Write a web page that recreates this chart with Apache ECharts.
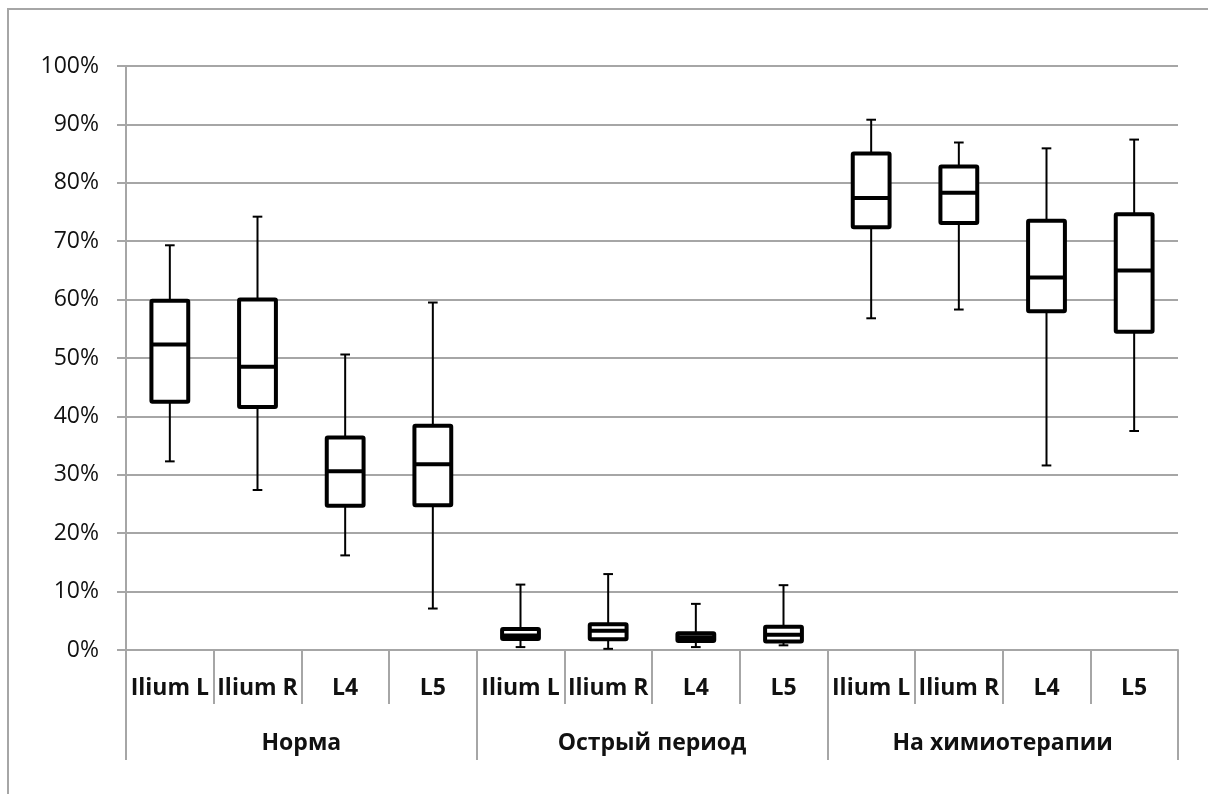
<!DOCTYPE html>
<html>
<head>
<meta charset="utf-8">
<script src="https://cdn.jsdelivr.net/npm/echarts@6/dist/echarts.min.js"></script>
<style>
  html, body { margin: 0; padding: 0; background: #fff; }
  #chart { width: 1208px; height: 794px; }
</style>
</head>
<body>
<div id="chart"></div>
<script>
// подписи категорий
const sites = ['Ilium L', 'Ilium R', 'L4', 'L5']
const groups = ['Норма', 'Острый период', 'На химиотерапии']
const yTicks = [0, 10, 20, 30, 40, 50, 60, 70, 80, 90, 100]

// значения, % : [мин, Q1, медиана, Q3, макс]
const normaStats = [
  [32.3, 42.5, 52.3, 59.8, 69.3],
  [27.4, 41.6, 48.5, 60.0, 74.2],
  [16.2, 24.7, 30.6, 36.4, 50.6],
  [7.1, 24.8, 31.8, 38.4, 59.5]
]
const acuteStats = [
  [0.5, 1.9, 2.5, 3.6, 11.2],
  [0.2, 1.85, 3.3, 4.4, 13.0],
  [0.5, 1.55, 2.2, 2.85, 7.9],
  [0.8, 1.45, 2.6, 4.0, 11.1]
]
const chemoStats = [
  [56.8, 72.4, 77.4, 85.0, 90.8],
  [58.3, 73.1, 78.3, 82.8, 86.9],
  [31.6, 58.0, 63.8, 73.5, 85.9],
  [37.5, 54.5, 65.0, 74.6, 87.4]
]

const categories = []
groups.forEach(function () { sites.forEach(function (s) { categories.push(s) }) })
const boxData = [].concat(normaStats, acuteStats, chemoStats).map(function (d, i) {
  return [i].concat(d)
})

const gray = '#a6a6a6'
const chart = echarts.init(document.getElementById('chart'), null, { renderer: 'canvas' })

function renderBox (params, api) {
  const x = api.value(0)
  const low = api.coord([x, api.value(1)])
  const q1 = api.coord([x, api.value(2)])
  const med = api.coord([x, api.value(3)])
  const q3 = api.coord([x, api.value(4)])
  const high = api.coord([x, api.value(5)])
  const band = api.size([1, 0])[0]
  const bw = band * 0.42
  const cw = band * 0.11
  const cx = med[0]
  const line = function (x1, y1, x2, y2, w) {
    return {
      type: 'line',
      shape: { x1: x1, y1: y1, x2: x2, y2: y2 },
      style: { stroke: '#000', lineWidth: w }
    }
  }
  return {
    type: 'group',
    children: [
      line(cx, high[1], cx, low[1], 2),
      line(cx - cw / 2, high[1], cx + cw / 2, high[1], 2),
      line(cx - cw / 2, low[1], cx + cw / 2, low[1], 2),
      {
        type: 'rect',
        shape: { x: cx - bw / 2, y: q3[1], width: bw, height: q1[1] - q3[1], r: 1 },
        style: { fill: '#fff', stroke: '#000', lineWidth: 4 }
      },
      line(cx - bw / 2, med[1], cx + bw / 2, med[1], 4)
    ]
  }
}

chart.setOption({
  animation: false,
  backgroundColor: '#fff',
  textStyle: { fontFamily: 'Open Sans' },
  graphic: [{
    type: 'rect',
    shape: { x: 8, y: 9, width: 1260, height: 840 },
    style: { fill: 'none', stroke: gray, lineWidth: 2 },
    silent: true
  }],
  grid: { left: 126, right: 30, top: 66, bottom: 144 },
  xAxis: [
    {
      type: 'category',
      data: categories,
      boundaryGap: true,
      axisLine: { show: true, lineStyle: { color: gray, width: 2 } },
      axisTick: { show: true, interval: 0, length: 54, lineStyle: { color: gray, width: 2 } },
      axisLabel: {
        interval: 0,
        margin: 27,
        color: '#111',
        fontSize: 23,
        fontWeight: 'bold',
        fontFamily: 'Open Sans'
      },
      splitLine: { show: false }
    },
    {
      type: 'category',
      data: groups,
      position: 'bottom',
      boundaryGap: true,
      axisLine: { show: false },
      axisTick: { show: true, interval: 0, length: 110, lineStyle: { color: gray, width: 2 } },
      axisLabel: {
        interval: 0,
        margin: 82,
        color: '#111',
        fontSize: 23,
        fontWeight: 'bold',
        fontFamily: 'Open Sans'
      },
      splitLine: { show: false }
    }
  ],
  yAxis: {
    type: 'value',
    min: yTicks[0],
    max: yTicks[yTicks.length - 1],
    interval: yTicks[1] - yTicks[0],
    axisLine: { show: true, lineStyle: { color: gray, width: 2 } },
    axisTick: { show: true, length: 9, lineStyle: { color: gray, width: 2 } },
    axisLabel: {
      margin: 27,
      color: '#111',
      fontSize: 23,
      fontFamily: 'Open Sans',
      formatter: '{value}%'
    },
    splitLine: { show: true, lineStyle: { color: gray, width: 2 } }
  },
  series: [{
    type: 'custom',
    xAxisIndex: 0,
    renderItem: renderBox,
    encode: { x: 0, y: [1, 2, 3, 4, 5] },
    data: boxData,
    z: 10
  }]
})

window.addEventListener('resize', function () { chart.resize() })
</script>
</body>
</html>
